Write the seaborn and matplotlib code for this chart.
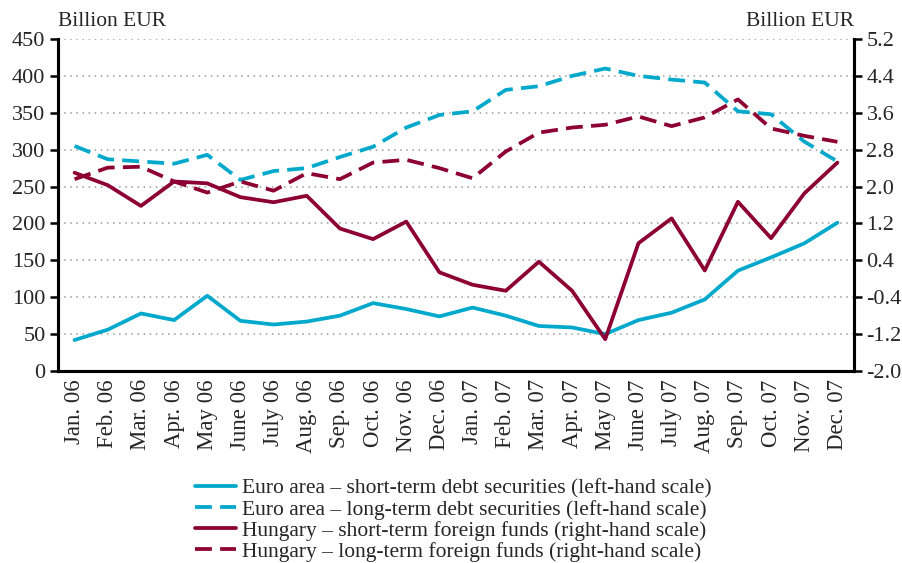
import numpy as np
import pandas as pd
import matplotlib
matplotlib.use("Agg")
import matplotlib.pyplot as plt
import seaborn as sns

months = ["Jan. 06", "Feb. 06", "Mar. 06", "Apr. 06", "May 06", "June 06", "July 06",
          "Aug. 06", "Sep. 06", "Oct. 06", "Nov. 06", "Dec. 06", "Jan. 07", "Feb. 07",
          "Mar. 07", "Apr. 07", "May 07", "June 07", "July 07", "Aug. 07", "Sep. 07",
          "Oct. 07", "Nov. 07", "Dec. 07"]

euro_short = [42, 56, 78, 69, 102, 68, 63, 67, 75, 92, 84, 74,
              86, 75, 61, 59, 50, 69, 79, 97, 136, 154, 173, 201]
euro_long = [305, 287, 284, 281, 293, 259, 271, 275, 290, 304, 330, 347,
             352, 381, 386, 400, 410, 400, 395, 391, 352, 348, 311, 284]
hun_short = [2.30, 2.03, 1.58, 2.11, 2.07, 1.77, 1.66, 1.80, 1.09, 0.86, 1.24, 0.14,
             -0.13, -0.26, 0.37, -0.26, -1.31, 0.77, 1.31, 0.18, 1.67, 0.88, 1.85, 2.52]
hun_long = [2.16, 2.41, 2.43, 2.11, 1.87, 2.11, 1.91, 2.29, 2.16, 2.52, 2.58, 2.40,
            2.18, 2.76, 3.17, 3.28, 3.34, 3.52, 3.31, 3.50, 3.89, 3.26, 3.10, 2.97]

labels = ["Euro area \u2013 short-term debt securities (left-hand scale)",
          "Euro area \u2013 long-term debt securities (left-hand scale)",
          "Hungary \u2013 short-term foreign funds (right-hand scale)",
          "Hungary \u2013 long-term foreign funds (right-hand scale)"]

left_ticks = [0, 50, 100, 150, 200, 250, 300, 350, 400, 450]
right_ticks = [-2.0, -1.2, -0.4, 0.4, 1.2, 2.0, 2.8, 3.6, 4.4, 5.2]

cyan = "#00A9CB"
red = "#8C0032"

sns.set_style("white")
plt.rcParams["font.family"] = ["Liberation Serif", "DejaVu Serif"]

x = np.arange(len(months))
df_left = pd.DataFrame({"x": x, "short": euro_short, "long": euro_long})
df_right = pd.DataFrame({"x": x, "short": hun_short, "long": hun_long})

fig = plt.figure(figsize=(9.03, 5.63), dpi=100)
ax = fig.add_axes([58 / 903, 1 - 371 / 563, (854 - 58) / 903, (371 - 39) / 563])
ax2 = ax.twinx()

lw = 2.7
dash = (0, (4.5, 2.2))
sns.lineplot(data=df_left, x="x", y="short", ax=ax, color=cyan, lw=lw, label=labels[0], legend=False)
sns.lineplot(data=df_left, x="x", y="long", ax=ax, color=cyan, lw=lw,
             linestyle=dash, label=labels[1], legend=False)
sns.lineplot(data=df_right, x="x", y="short", ax=ax2, color=red, lw=lw, label=labels[2], legend=False)
sns.lineplot(data=df_right, x="x", y="long", ax=ax2, color=red, lw=lw,
             linestyle=dash, label=labels[3], legend=False)

ax.set_xlim(-0.5, len(months) - 0.5)
ax.set_ylim(0, 450)
ax2.set_ylim(-2.0, 5.2)
ax.set_yticks(left_ticks)
ax2.set_yticks(right_ticks)
ax2.set_yticklabels([f"{v:.1f}" for v in right_ticks])
ax.set_xticks(x)
ax.set_xticklabels(months, rotation=90, fontsize=16.5)
ax.set_xticks(np.arange(len(months) + 1) - 0.5, minor=True)
ax.tick_params(axis="x", which="major", length=0, pad=6)
ax.tick_params(axis="x", which="minor", length=6, width=1.8, direction="out", color="black")
ax.tick_params(axis="y", length=6, width=1.8, direction="out", labelsize=16, color="black", pad=3)
ax2.tick_params(axis="y", length=6, width=1.8, direction="out", labelsize=16, color="black", pad=3)
ax.set_xlabel("")
ax.set_ylabel("")
ax2.set_ylabel("")

ax.grid(axis="y", color="#999999", linestyle=(0, (1, 3)), lw=1.1)
ax.set_axisbelow(True)

for a in (ax, ax2):
    a.spines["top"].set_visible(False)
    for s in ("left", "right", "bottom"):
        a.spines[s].set_color("black")
        a.spines[s].set_linewidth(2.2)

ax.text(0.0, 1.025, "Billion EUR", transform=ax.transAxes, ha="left", va="bottom", fontsize=15.5)
ax2.text(1.0, 1.025, "Billion EUR", transform=ax2.transAxes, ha="right", va="bottom", fontsize=15.5)

h1, l1 = ax.get_legend_handles_labels()
h2, l2 = ax2.get_legend_handles_labels()
fig.legend(h1 + h2, l1 + l2, loc="upper center", bbox_to_anchor=(0.502, 1 - 468 / 563),
           frameon=False, fontsize=15.5, handlelength=1.9, handletextpad=0.3,
           labelspacing=0.04, borderpad=0)

fig.savefig("out.png", dpi=100)
